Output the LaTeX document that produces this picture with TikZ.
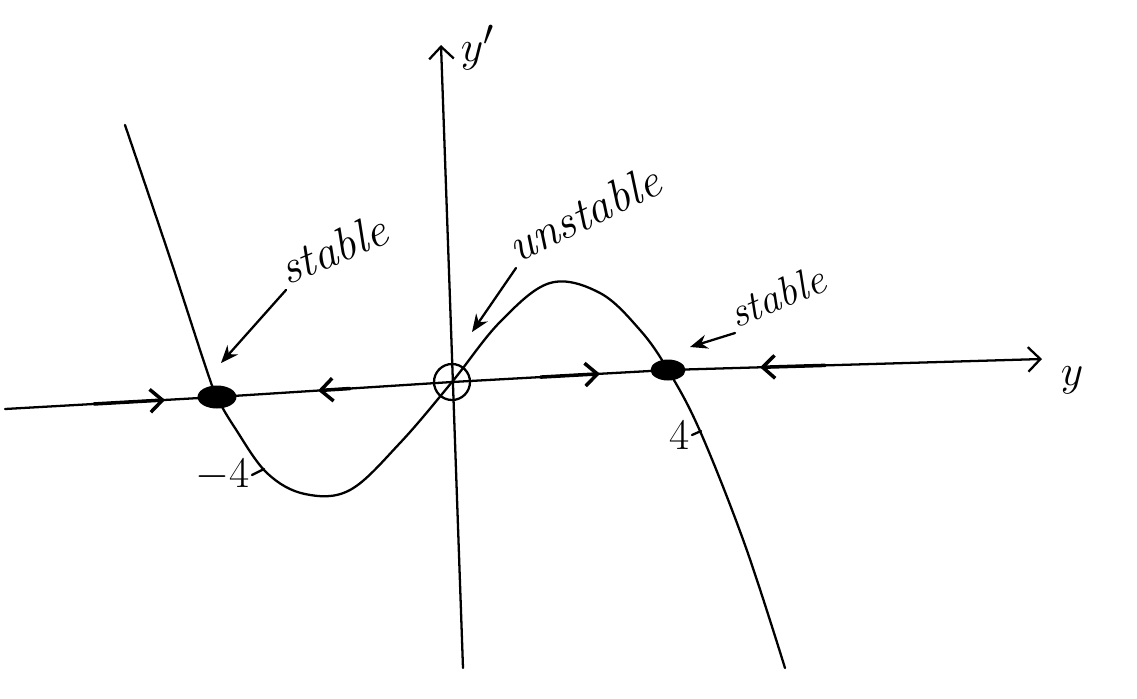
\documentclass[tikz,border=0pt]{standalone}
\usetikzlibrary{arrows.meta, positioning, calc, shapes.geometric}

\begin{document}
\begin{tikzpicture}[
    x=0.02cm, y=-0.02cm,
    line width=1.3pt, line cap=round, line join=round,
    hand/.style={font=\fontsize{27}{30}\selectfont\itshape, inner sep=1pt},
    num/.style={font=\fontsize{26}{30}\selectfont, inner sep=1pt},
    axislbl/.style={font=\fontsize{30}{34}\selectfont, inner sep=1pt},
    pointer/.style={-{Stealth[length=10pt, width=8pt]}},
    axis/.style={-{Straight Barb[length=7pt, width=14pt]}},
    flow/.style={line width=2pt, -{Straight Barb[length=7pt, width=13pt]}},
    sink/.style={ellipse, fill=black, minimum width=0.78cm, minimum height=0.46cm, inner sep=0pt},
    source/.style={circle, draw, minimum size=0.72cm, inner sep=0pt},
]
\useasboundingbox (0,0) rectangle (1137,698);

% ---------------- equilibria
\node[sink] (eqL) at (217,397) {};
\node[source] (eqO) at (452,382) {};
\node[sink, minimum width=0.7cm, minimum height=0.42cm] (eqR) at (668,370) {};

% ---------------- axes
\coordinate (hL) at (5,409);
\coordinate (hR) at (1042,359);
\coordinate (vB) at (463,668);
\coordinate (vT) at (441,45);
\draw[axis] (hL) -- (eqL.center) -- (eqO.center) -- (eqR.center) -- (hR);
\draw[axis] (vB) -- (vT);
\node[axislbl, anchor=west] (ylab) at (1058,380) {$y$};
\node[axislbl, anchor=west] (yplab) at (458,48) {$y'$};

% ---------------- the curve
\draw plot[smooth, tension=0.6] coordinates {
    (125,125) (170,258) (205,365) (217,397) (235,428) (267,473)
    (305,494) (350,490) (400,443) (452,382) (500,322) (550,283)
    (600,293) (640,330) (668,370) (700,431) (745,545) (785,668)};

% ---------------- flow on the line
\foreach \a/\b/\s/\e [count=\i] in {hL/eqL.center/0.42/0.755,
                                   eqL.center/eqO.center/0.566/0.43,
                                   eqO.center/eqR.center/0.41/0.685,
                                   eqR.center/hR/0.42/0.246}{
    \draw[flow] ($(\a)!\s!(\b)$) coordinate (fs\i) -- ($(\a)!\e!(\b)$) coordinate (fe\i);
}

% ---------------- labels
\node[hand, anchor=south west, rotate=23] (stL) at (286,290) {stable};
\node[hand, anchor=south west, rotate=26] (unO) at (516,268) {unstable};
\node[hand, anchor=south west, rotate=23, font=\fontsize{24}{28}\selectfont\itshape] (stR) at (735,333) {stable};
\coordinate (tipL) at (221,363);
\coordinate (tipO) at (472,332);
\coordinate (tipR) at (690,347);
\draw[pointer] (stL.south west) -- (tipL);
\draw[pointer] (unO.south west) -- (tipO);
\draw[pointer] (stR.south west) -- (tipR);

% ---------------- ticks
\node[num, anchor=east] (mfour) at (252,475) {$-4$};
\coordinate (cL) at (264,469);
\draw (mfour.east) -- (cL);
\node[num, anchor=east] (four) at (692,435) {$4$};
\coordinate (cR) at (701,431);
\draw (four.east) -- (cR);

\end{tikzpicture}
\end{document}
